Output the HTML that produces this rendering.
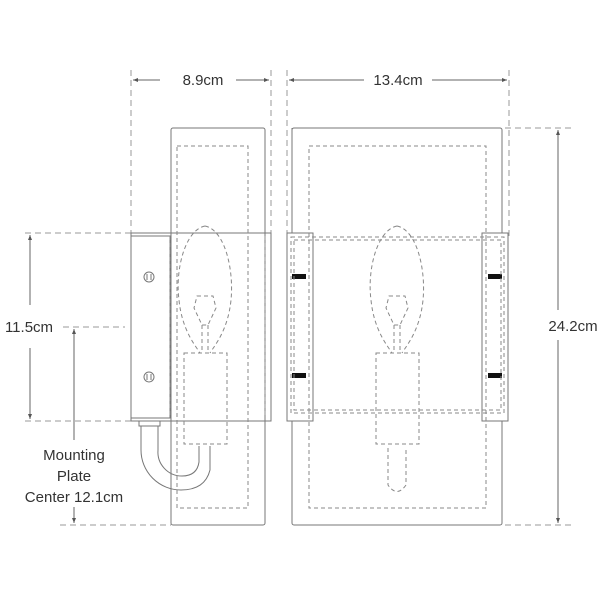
<!DOCTYPE html>
<html><head><style>
html,body{margin:0;padding:0;background:#fff}
svg{display:block}
text{font-family:"Liberation Sans",sans-serif;fill:#333;font-size:15px}
</style></head><body>
<svg width="600" height="600" viewBox="0 0 600 600" xmlns="http://www.w3.org/2000/svg">
<defs>
<marker id="a" markerWidth="6" markerHeight="6" refX="5" refY="3" orient="auto"><path d="M0,1 L5,3 L0,5 z" fill="#555"/></marker>
</defs>
<g stroke="#999" stroke-width="1" fill="none" stroke-dasharray="6,4">
<line x1="131" y1="70" x2="131" y2="240"/>
<line x1="271" y1="70" x2="271" y2="240"/>
<line x1="287" y1="70" x2="287" y2="240"/>
<line x1="509" y1="70" x2="509" y2="240"/>
<line x1="505" y1="128" x2="572" y2="128"/>
<line x1="505" y1="525" x2="572" y2="525"/>
<line x1="25" y1="233" x2="131" y2="233"/>
<line x1="25" y1="421" x2="131" y2="421"/>
<line x1="63" y1="327" x2="125" y2="327"/>
<line x1="60" y1="525" x2="171" y2="525"/>
</g>
<g stroke="#666" stroke-width="1" fill="none">
<line x1="160" y1="80" x2="133" y2="80" marker-end="url(#a)"/>
<line x1="236" y1="80" x2="269" y2="80" marker-end="url(#a)"/>
<line x1="364" y1="80" x2="289" y2="80" marker-end="url(#a)"/>
<line x1="432" y1="80" x2="507" y2="80" marker-end="url(#a)"/>
<line x1="558" y1="310" x2="558" y2="130" marker-end="url(#a)"/>
<line x1="558" y1="340" x2="558" y2="523" marker-end="url(#a)"/>
<line x1="30" y1="305" x2="30" y2="235" marker-end="url(#a)"/>
<line x1="30" y1="348" x2="30" y2="419" marker-end="url(#a)"/>
<line x1="74" y1="440" x2="74" y2="329" marker-end="url(#a)"/>
<line x1="74" y1="507" x2="74" y2="523" marker-end="url(#a)"/>
</g>
<text x="203" y="85" text-anchor="middle">8.9cm</text>
<text x="398" y="85" text-anchor="middle">13.4cm</text>
<text x="573" y="331" text-anchor="middle">24.2cm</text>
<text x="29" y="332" text-anchor="middle">11.5cm</text>
<text x="74" y="460" text-anchor="middle">Mounting</text>
<text x="74" y="481" text-anchor="middle">Plate</text>
<text x="74" y="502" text-anchor="middle">Center 12.1cm</text>

<g stroke="#777" stroke-width="1" fill="none">
<rect x="171" y="128" width="94" height="397" rx="2"/>
<rect x="131" y="233" width="140" height="188"/>
<rect x="131" y="236" width="39" height="182"/>
<rect x="139" y="421" width="21" height="5"/>
<path d="M141,426 V450 A40,40 0 0 0 181,490 Q205,490 210,470 V446"/>
<path d="M158,426 V450 A24,24 0 0 0 182,476 Q197,476 199,462 V446"/>
<circle cx="149" cy="277" r="5"/><line x1="147" y1="274" x2="147" y2="280"/><line x1="151" y1="274" x2="151" y2="280"/>
<circle cx="149" cy="377" r="5"/><line x1="147" y1="374" x2="147" y2="380"/><line x1="151" y1="374" x2="151" y2="380"/>
</g>
<g stroke="#888" stroke-width="1" fill="none" stroke-dasharray="4,3">
<rect x="177" y="146" width="71" height="362"/>
<line x1="170" y1="236" x2="170" y2="418"/>
<line x1="265" y1="236" x2="265" y2="418"/>
<path d="M205,226 C185,230 175,270 179,300 C182,330 195,345 200,353 M205,226 C225,230 234,270 231,300 C228,330 215,345 210,353"/>
<path d="M197,296 H213 L216,308 L208,325 H202 L194,308 Z"/>
<line x1="202" y1="325" x2="202" y2="353"/><line x1="208" y1="325" x2="208" y2="353"/>
<rect x="184" y="353" width="43" height="91"/>
</g>

<g stroke="#777" stroke-width="1" fill="none">
<rect x="292" y="128" width="210" height="397" rx="2"/>
<rect x="287" y="233" width="26" height="188" fill="#fff"/>
<rect x="482" y="233" width="26" height="188" fill="#fff"/>
<line x1="292" y1="128" x2="292" y2="233"/>
</g>
<g fill="#111">
<rect x="292" y="274" width="14" height="5"/><rect x="292" y="373" width="14" height="5"/>
<rect x="488" y="274" width="14" height="5"/><rect x="488" y="373" width="14" height="5"/>
</g>
<g stroke="#888" stroke-width="1" fill="none" stroke-dasharray="4,3">
<rect x="309" y="146" width="177" height="362"/>
<rect x="291" y="237" width="213" height="176"/>
<rect x="294" y="240" width="207" height="170"/>
<path d="M397,226 C377,230 367,270 371,300 C374,330 387,345 392,353 M397,226 C417,230 426,270 423,300 C420,330 407,345 402,353"/>
<path d="M389,296 H405 L408,308 L400,325 H394 L386,308 Z"/>
<line x1="394" y1="325" x2="394" y2="353"/><line x1="400" y1="325" x2="400" y2="353"/>
<rect x="376" y="353" width="43" height="91"/>
<path d="M388,448 V485 Q397,498 406,485 V448"/>
</g>
</svg>
</body></html>
